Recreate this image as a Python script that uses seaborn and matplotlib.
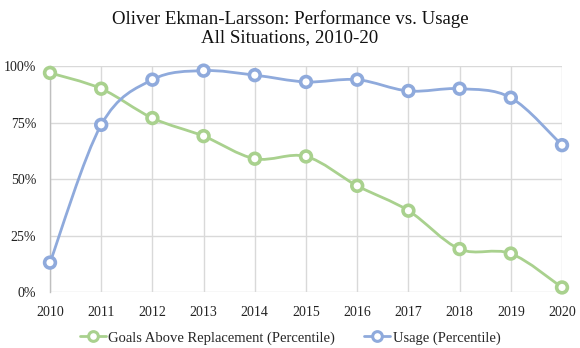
import numpy as np
import pandas as pd
import matplotlib
matplotlib.use("Agg")
import matplotlib.pyplot as plt
from matplotlib.path import Path
from matplotlib.patches import PathPatch
from matplotlib.lines import Line2D
from matplotlib.ticker import FuncFormatter
import seaborn as sns

years = [2010, 2011, 2012, 2013, 2014, 2015, 2016, 2017, 2018, 2019, 2020]
gar_pct = [97, 90, 77, 69, 59, 60, 47, 36, 19, 17, 2]
usage_pct = [13, 74, 94, 98, 96, 93, 94, 89, 90, 86, 65]
series_names = ["Goals Above Replacement (Percentile)", "Usage (Percentile)"]
title_text = "Oliver Ekman-Larsson: Performance vs. Usage\nAll Situations, 2010-20"

GREEN = "#A9D18E"
BLUE = "#8FAADC"
GRID = "#D9D9D9"

sns.set_theme(style="white")
plt.rcParams["font.family"] = ["Liberation Serif", "DejaVu Serif"]

df = pd.DataFrame({
    "year": years * 2,
    "value": gar_pct + usage_pct,
    "series": [series_names[0]] * len(years) + [series_names[1]] * len(years),
})

fig = plt.figure(figsize=(5.8, 3.48), dpi=100)
ax = fig.add_axes([0.0862, 0.161, 0.969 - 0.0862, 0.810 - 0.161])


def smooth_path(xs, ys):
    pts = np.column_stack([xs, ys]).astype(float)
    n = len(pts)
    verts = [pts[0]]
    codes = [Path.MOVETO]
    for i in range(n - 1):
        p0 = pts[i - 1] if i > 0 else pts[i]
        p1 = pts[i]
        p2 = pts[i + 1]
        p3 = pts[i + 2] if i + 2 < n else pts[i + 1]
        c1 = p1 + (p2 - p0) / 6.0
        c2 = p2 - (p3 - p1) / 6.0
        verts += [c1, c2, p2]
        codes += [Path.CURVE4] * 3
    return Path(verts, codes)


for name, vals, col in [(series_names[0], gar_pct, GREEN), (series_names[1], usage_pct, BLUE)]:
    ax.add_patch(PathPatch(smooth_path(years, vals), facecolor="none", edgecolor=col,
                           lw=2.0, zorder=3, capstyle="round", joinstyle="round"))

sns.scatterplot(data=df, x="year", y="value", hue="series",
                palette={series_names[0]: GREEN, series_names[1]: BLUE},
                ax=ax, s=60, marker="o", facecolor="white", linewidth=2.6,
                zorder=4, legend=False)
coll = ax.collections[-1]
coll.set_edgecolors([GREEN] * len(years) + [BLUE] * len(years))
coll.set_facecolor("white")

ax.set_xlim(2010, 2020)
ax.set_ylim(0, 100)
ax.set_xticks(years)
ax.set_yticks([0, 25, 50, 75, 100])
ax.yaxis.set_major_formatter(FuncFormatter(lambda v, p: f"{int(v)}%"))
ax.set_xlabel("")
ax.set_ylabel("")
ax.grid(True, color=GRID, lw=1.0)
ax.set_axisbelow(True)
for s in ["top", "right", "bottom"]:
    ax.spines[s].set_visible(False)
ax.spines["left"].set_color("#BFBFBF")
ax.spines["left"].set_linewidth(1.0)
ax.tick_params(axis="both", length=0, labelsize=10, colors="#222222")
ax.tick_params(axis="x", pad=10)
ax.tick_params(axis="y", pad=10)
for c in ax.collections:
    c.set_clip_on(False)

fig.suptitle(title_text, y=0.972, fontsize=13.6, color="#111111", linespacing=1.1)

handles = [Line2D([0], [0], color=GREEN, lw=2, marker="o", markersize=7,
                  markerfacecolor="white", markeredgecolor=GREEN, markeredgewidth=2.2),
           Line2D([0], [0], color=BLUE, lw=2, marker="o", markersize=7,
                  markerfacecolor="white", markeredgecolor=BLUE, markeredgewidth=2.2)]
fig.legend(handles, series_names, loc="center", bbox_to_anchor=(0.5, 0.029), ncol=2,
           frameon=False, fontsize=10.5, handlelength=1.8, handletextpad=0.15,
           columnspacing=2.0, borderpad=0)

fig.savefig("out.png", dpi=100)
